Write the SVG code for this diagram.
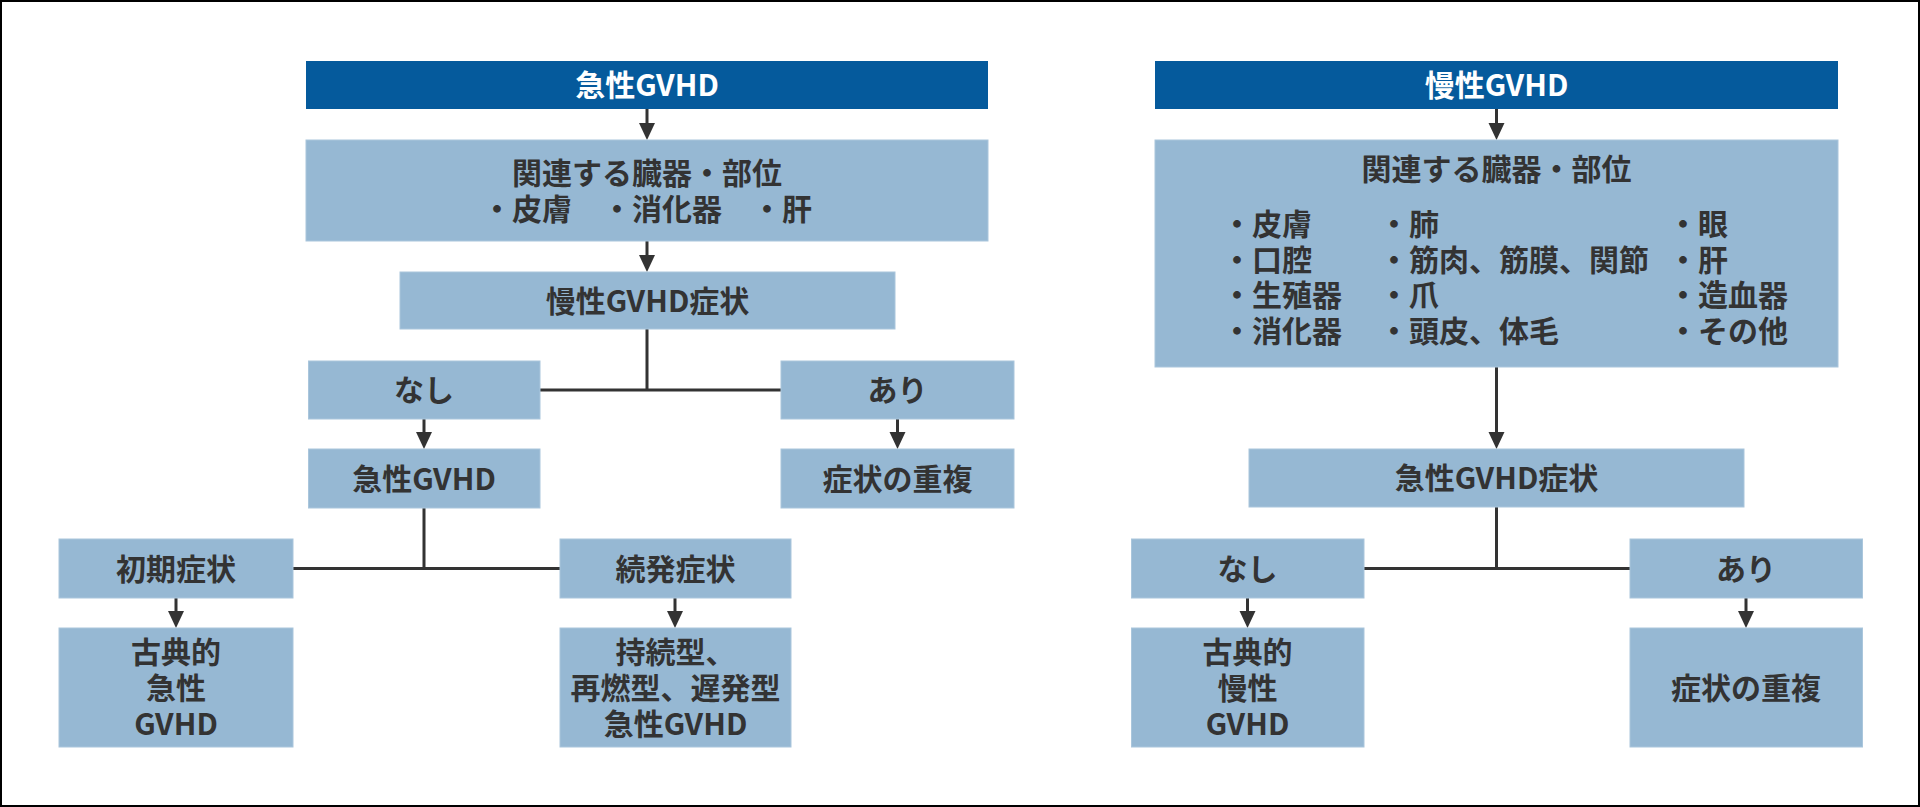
<svg xmlns="http://www.w3.org/2000/svg" width="1920" height="807" viewBox="0 0 1920 807">
<defs>
<style>
.hd{fill:#055a9c}
.bx{fill:#96b8d3;stroke:#aac6dc;stroke-width:1}
text{font-family:"Noto Sans CJK JP","Noto Sans",sans-serif;font-weight:700;font-size:30px;fill:#333333}
.c{text-anchor:middle}
.w{fill:#ffffff}
.ln{fill:none;stroke:#333333;stroke-width:3}
</style>
<marker id="ah" markerUnits="userSpaceOnUse" markerWidth="17" markerHeight="17" refX="11" refY="8" orient="auto">
<path d="M0,0 L17,8 L0,16 Z" fill="#333333"/>
</marker>
</defs>
<rect x="0" y="0" width="1920" height="807" fill="#ffffff"/>
<rect x="1" y="1" width="1918" height="805" fill="none" stroke="#000000" stroke-width="2"/>

<g id="connectors">
<path class="ln" d="M647 109 V134" marker-end="url(#ah)"/>
<path class="ln" d="M647 241 V266" marker-end="url(#ah)"/>
<path class="ln" d="M647 329 V390 M540 390 H781"/>
<path class="ln" d="M424 419 V443" marker-end="url(#ah)"/>
<path class="ln" d="M897.5 419 V443" marker-end="url(#ah)"/>
<path class="ln" d="M424 508 V568.5 M293 568.5 H560"/>
<path class="ln" d="M176 598 V622" marker-end="url(#ah)"/>
<path class="ln" d="M675 598 V622" marker-end="url(#ah)"/>
<path class="ln" d="M1496.5 109 V134" marker-end="url(#ah)"/>
<path class="ln" d="M1496.5 367 V443" marker-end="url(#ah)"/>
<path class="ln" d="M1496.5 507 V568.5 M1364 568.5 H1630"/>
<path class="ln" d="M1247.5 598 V622" marker-end="url(#ah)"/>
<path class="ln" d="M1746 598 V622" marker-end="url(#ah)"/>
</g>

<g id="acute-title">
<rect class="hd" x="306" y="61" width="682" height="48"/>
<text class="c w" x="647" y="96">急性GVHD</text>
</g>
<g id="acute-organs">
<rect class="bx" x="306" y="140" width="682" height="101"/>
<text class="c" x="647" y="184">関連する臓器・部位</text>
<text class="c" x="647" y="220">・皮膚　・消化器　・肝</text>
</g>
<g id="acute-chronic-symptoms">
<rect class="bx" x="400" y="272" width="495" height="57"/>
<text class="c" x="647.5" y="312">慢性GVHD症状</text>
</g>
<g id="acute-none">
<rect class="bx" x="308.5" y="361" width="231.5" height="58"/>
<text class="c" x="424" y="401">なし</text>
</g>
<g id="acute-present">
<rect class="bx" x="781" y="361" width="233" height="58"/>
<text class="c" x="897.5" y="401">あり</text>
</g>
<g id="acute-gvhd">
<rect class="bx" x="308.5" y="449" width="231.5" height="59"/>
<text class="c" x="424" y="490">急性GVHD</text>
</g>
<g id="acute-overlap">
<rect class="bx" x="781" y="449" width="233" height="59"/>
<text class="c" x="897.5" y="490">症状の重複</text>
</g>
<g id="acute-initial">
<rect class="bx" x="59" y="539" width="234" height="59"/>
<text class="c" x="176" y="580">初期症状</text>
</g>
<g id="acute-secondary">
<rect class="bx" x="560" y="539" width="231" height="59"/>
<text class="c" x="675.5" y="580">続発症状</text>
</g>
<g id="acute-classic">
<rect class="bx" x="59" y="628" width="234" height="119"/>
<text class="c" x="176" y="662.5">古典的</text>
<text class="c" x="176" y="698.5">急性</text>
<text class="c" x="176" y="734.5">GVHD</text>
</g>
<g id="acute-late">
<rect class="bx" x="560" y="628" width="231" height="119"/>
<text class="c" x="675.5" y="662.5">持続型、</text>
<text class="c" x="675.5" y="698.5">再燃型、遅発型</text>
<text class="c" x="675.5" y="734.5">急性GVHD</text>
</g>

<g id="chronic-title">
<rect class="hd" x="1155" y="61" width="683" height="48"/>
<text class="c w" x="1496.5" y="96">慢性GVHD</text>
</g>
<g id="chronic-organs">
<rect class="bx" x="1155" y="140" width="683" height="227"/>
<text class="c" x="1496.5" y="180">関連する臓器・部位</text>
<text x="1222" y="235">・皮膚</text>
<text x="1222" y="271">・口腔</text>
<text x="1222" y="306">・生殖器</text>
<text x="1222" y="342">・消化器</text>
<text x="1379" y="235">・肺</text>
<text x="1379" y="271">・筋肉、筋膜、関節</text>
<text x="1379" y="306">・爪</text>
<text x="1379" y="342">・頭皮、体毛</text>
<text x="1668" y="235">・眼</text>
<text x="1668" y="271">・肝</text>
<text x="1668" y="306">・造血器</text>
<text x="1668" y="342">・その他</text>
</g>
<g id="chronic-acute-symptoms">
<rect class="bx" x="1249" y="449" width="495" height="58"/>
<text class="c" x="1496.5" y="489">急性GVHD症状</text>
</g>
<g id="chronic-none">
<rect class="bx" x="1131.5" y="539" width="232.5" height="59"/>
<text class="c" x="1247.5" y="580">なし</text>
</g>
<g id="chronic-present">
<rect class="bx" x="1630" y="539" width="232.5" height="59"/>
<text class="c" x="1746" y="580">あり</text>
</g>
<g id="chronic-classic">
<rect class="bx" x="1131.5" y="628" width="232.5" height="119"/>
<text class="c" x="1247.5" y="662.5">古典的</text>
<text class="c" x="1247.5" y="698.5">慢性</text>
<text class="c" x="1247.5" y="734.5">GVHD</text>
</g>
<g id="chronic-overlap">
<rect class="bx" x="1630" y="628" width="232.5" height="119"/>
<text class="c" x="1746" y="698.5">症状の重複</text>
</g>
</svg>
